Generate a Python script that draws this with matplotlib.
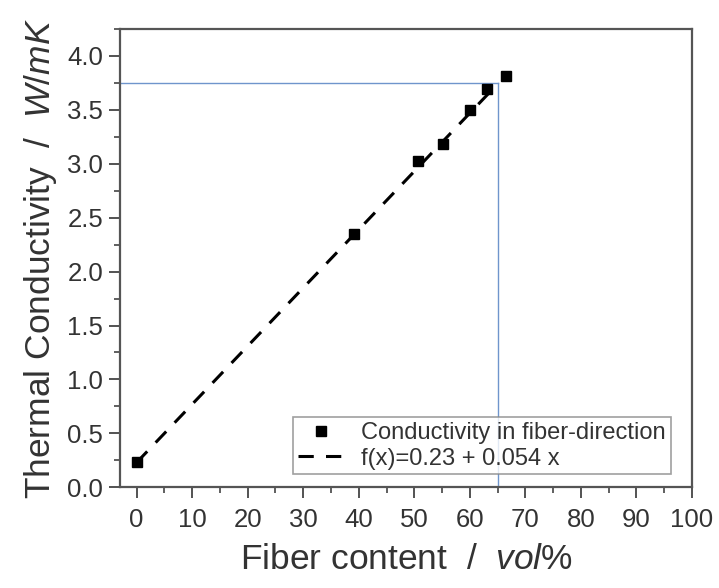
import matplotlib
matplotlib.use("Agg")
import matplotlib.pyplot as plt
import numpy as np
from matplotlib.ticker import MultipleLocator

plt.rcParams['font.family'] = ['Liberation Sans', 'DejaVu Sans']
plt.rcParams['mathtext.fontset'] = 'custom'
plt.rcParams['mathtext.rm'] = 'Liberation Sans'
plt.rcParams['mathtext.it'] = 'Liberation Sans:italic'

# Data
fiber_content = [0.0, 39.2, 50.6, 55.2, 60.0, 63.0, 66.6]
conductivity = [0.23, 2.35, 3.03, 3.18, 3.50, 3.69, 3.81]
fit_intercept = 0.23
fit_slope = 0.054
fit_range = [0.0, 64.0]
ref_x = 65.0
ref_y = 3.75
x_ticks = [0, 10, 20, 30, 40, 50, 60, 70, 80, 90, 100]
y_ticks = [0.0, 0.5, 1.0, 1.5, 2.0, 2.5, 3.0, 3.5, 4.0]

fig = plt.figure(figsize=(7.19, 5.88), dpi=100)
ax = fig.add_axes([0.1669, 0.1713, 0.7955, 0.7794])

txt = '#333333'
ax.set_xlim(-3, 100)
ax.set_ylim(0, 4.25)

# reference lines
ax.plot([ax.get_xlim()[0], ref_x], [ref_y, ref_y], color='#6f95cc', lw=1.0, zorder=1)
ax.plot([ref_x, ref_x], [0, ref_y], color='#6f95cc', lw=1.0, zorder=1)

fx = np.array(fit_range)
ax.plot(fx, fit_intercept + fit_slope * fx, color='black', lw=2.2,
        dashes=(5, 4), label='f(x)=0.23 + 0.054 x', zorder=3)
ax.plot(fiber_content, conductivity, 's', color='black', ms=7.5,
        label='Conductivity in fiber-direction', zorder=4)

ax.set_xticks(x_ticks)
ax.set_yticks(y_ticks)
ax.set_yticklabels([f'{v:.1f}' for v in y_ticks])
ax.xaxis.set_minor_locator(MultipleLocator(5))
ax.yaxis.set_minor_locator(MultipleLocator(0.25))
ax.tick_params(which='major', direction='out', length=8, width=1.3, colors='#444444',
               labelsize=18.5, labelcolor=txt)
ax.tick_params(axis='x', which='major', pad=7)
ax.tick_params(axis='y', which='major', pad=4)
ax.tick_params(which='minor', direction='out', length=4.5, width=1.2, colors='#444444')
ax.tick_params(top=False, right=False)
for s in ax.spines.values():
    s.set_color('#555555')
    s.set_linewidth(1.6)

ax.set_xlabel(r'Fiber content  /  $\mathit{vol\%}$', fontsize=25.5, color=txt, labelpad=8)
ax.set_ylabel(r'Thermal Conductivity  /  $\mathit{W/mK}$', fontsize=25.5, color=txt, labelpad=6)

h, l = ax.get_legend_handles_labels()
leg = ax.legend([h[1], h[0]], [l[1], l[0]], loc='lower right',
                bbox_to_anchor=(0.963, 0.028), fontsize=17, frameon=True,
                fancybox=False, edgecolor='#888888', handlelength=2.0,
                borderpad=0.2, labelspacing=0.15, handletextpad=0.7, borderaxespad=0)
leg.get_frame().set_linewidth(1.2)
for t in leg.get_texts():
    t.set_color(txt)

fig.savefig('out.png', dpi=100)
